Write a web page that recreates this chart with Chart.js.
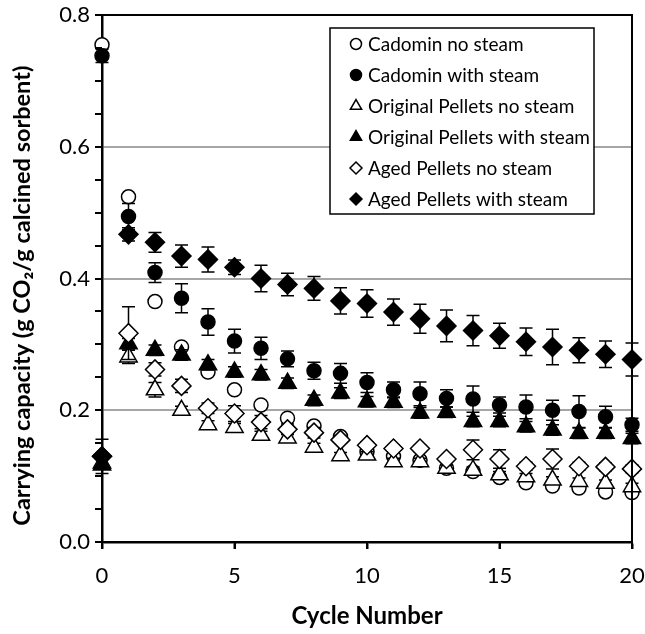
<!DOCTYPE html>
<html><head><meta charset="utf-8">
<script src="https://cdn.jsdelivr.net/npm/chart.js@4.4.1/dist/chart.umd.min.js"></script>
<style>html,body{margin:0;padding:0;background:#fff;} canvas{display:block;}</style>
</head><body>
<canvas id="c" width="645" height="634"></canvas>
<script>
// ---- data ----
const cycles = [0,1,2,3,4,5,6,7,8,9,10,11,12,13,14,15,16,17,18,19,20];
const seriesLabels = ["Cadomin no steam","Cadomin with steam","Original Pellets no steam","Original Pellets with steam","Aged Pellets no steam","Aged Pellets with steam"];
const cadominNoSteam      = [0.755,0.524,0.365,0.296,0.258,0.231,0.208,0.188,0.176,0.160,0.137,0.130,0.124,0.112,0.107,0.098,0.090,0.085,0.082,0.076,0.075];
const cadominWithSteam    = [0.738,0.494,0.409,0.370,0.334,0.305,0.294,0.278,0.260,0.256,0.242,0.231,0.225,0.218,0.217,0.208,0.205,0.200,0.198,0.190,0.178];
const originalNoSteam     = [0.120,0.281,0.231,0.200,0.178,0.174,0.162,0.158,0.144,0.131,0.132,0.122,0.122,0.112,0.109,0.102,0.099,0.094,0.092,0.089,0.084];
const originalWithSteam   = [0.117,0.301,0.291,0.284,0.269,0.258,0.254,0.241,0.215,0.226,0.213,0.212,0.196,0.197,0.183,0.183,0.175,0.170,0.165,0.165,0.157];
const agedNoSteam         = [0.130,0.317,0.262,0.237,0.203,0.195,0.182,0.171,0.166,0.155,0.147,0.142,0.142,0.126,0.140,0.126,0.115,0.126,0.115,0.114,0.111];
const agedWithSteam       = [0.130,0.467,0.455,0.434,0.429,0.417,0.400,0.391,0.385,0.366,0.362,0.349,0.339,0.328,0.321,0.313,0.304,0.296,0.291,0.285,0.277];
// error bar half-lengths
const cadominNoSteamErr    = [0,0,0,0,0,0,0,0,0,0,0,0,0,0,0,0,0,0,0,0,0];
const cadominWithSteamErr  = [0.010,0.020,0.015,0.022,0.020,0.018,0.017,0.012,0.013,0.015,0.015,0.012,0.018,0.013,0.020,0.012,0.018,0.015,0.024,0.016,0.010];
const originalNoSteamErr   = [0,0.010,0.011,0.006,0.006,0.006,0.006,0.006,0.006,0.005,0.005,0.005,0.005,0.005,0.005,0.005,0.005,0.005,0.005,0.005,0.005];
const originalWithSteamErr = [0,0.008,0.008,0.008,0.008,0.008,0.008,0.008,0.008,0.008,0.008,0.008,0.008,0.008,0.008,0.008,0.008,0.008,0.008,0.008,0.008];
const agedNoSteamErr       = [0,0.040,0.010,0.010,0.008,0.012,0.010,0.008,0.008,0.005,0.005,0.005,0.005,0.005,0.015,0.014,0.006,0.015,0.006,0.006,0.006];
const agedWithSteamErr     = [0.026,0.010,0.015,0.017,0.019,0.011,0.020,0.017,0.018,0.020,0.021,0.020,0.022,0.024,0.023,0.019,0.021,0.027,0.019,0.020,0.025];
const xTickValues = [0,5,10,15,20];
const yTickLabels = ["0.0","0.2","0.4","0.6","0.8"];
const xTitle = "Cycle Number";
const yTitle = "Carrying capacity (g CO\u2082/g calcined sorbent)";

const FONT = 'Lato, "Open Sans", sans-serif';
const seriesValues = [cadominNoSteam,cadominWithSteam,originalNoSteam,originalWithSteam,agedNoSteam,agedWithSteam];
const seriesErrors = [cadominNoSteamErr,cadominWithSteamErr,originalNoSteamErr,originalWithSteamErr,agedNoSteamErr,agedWithSteamErr];
const styles = [
  {pointStyle:'circle', radius:7, fill:'#fff', lr:5.5},
  {pointStyle:'circle', radius:7, fill:'#000', lr:5.5},
  {pointStyle:'triangle', radius:10, fill:'#fff', lr:6.5},
  {pointStyle:'triangle', radius:10, fill:'#000', lr:6.5},
  {pointStyle:'rectRot', radius:9.5, fill:'#fff', lr:6},
  {pointStyle:'rectRot', radius:9.5, fill:'#000', lr:6}
];

const datasets = seriesLabels.map((lab, i) => ({
  label: lab,
  data: cycles.map((c, j) => ({x: c, y: seriesValues[i][j]})),
  errors: seriesErrors[i],
  pointStyle: styles[i].pointStyle,
  pointRadius: styles[i].radius,
  pointHoverRadius: styles[i].radius,
  pointBackgroundColor: styles[i].fill,
  pointBorderColor: '#000',
  pointBorderWidth: 1.5,
  showLine: false,
  clip: false,
  order: seriesLabels.length - i
}));

const errorBars = {
  id: 'errorBars',
  beforeDatasetDraw(chart, args) {
    const ds = chart.data.datasets[args.index];
    if (!ds.errors) return;
    const xs = chart.scales.x, ys = chart.scales.y;
    const ctx = chart.ctx;
    ctx.save();
    ctx.strokeStyle = '#000';
    ctx.lineWidth = 1.5;
    ds.data.forEach((p, j) => {
      const e = ds.errors[j];
      if (!e) return;
      const px = xs.getPixelForValue(p.x);
      const y1 = ys.getPixelForValue(p.y + e), y2 = ys.getPixelForValue(p.y - e);
      ctx.beginPath();
      ctx.moveTo(px, y1); ctx.lineTo(px, y2);
      ctx.moveTo(px - 6.5, y1); ctx.lineTo(px + 6.5, y1);
      ctx.moveTo(px - 6.5, y2); ctx.lineTo(px + 6.5, y2);
      ctx.stroke();
    });
    ctx.restore();
  }
};

const frame = {
  id: 'frame',
  afterDraw(chart) {
    const {ctx, chartArea: a} = chart;
    const xs = chart.scales.x, ys = chart.scales.y;
    ctx.save();
    ctx.strokeStyle = '#000';
    ctx.lineWidth = 2;
    ctx.beginPath();
    ctx.moveTo(a.left, a.top); ctx.lineTo(a.right, a.top); ctx.lineTo(a.right, a.bottom);
    // outward tick marks
    ys.ticks.forEach(t => { const py = Math.round(ys.getPixelForValue(t.value)); ctx.moveTo(a.left - 7, py); ctx.lineTo(a.left, py); });
    xs.ticks.forEach(t => { const px = Math.round(xs.getPixelForValue(t.value)); ctx.moveTo(px, a.bottom); ctx.lineTo(px, a.bottom + 7); });
    ctx.stroke();
    ctx.restore();
  }
};

const boxLegend = {
  id: 'boxLegend',
  afterDraw(chart) {
    const ctx = chart.ctx;
    const L = 330, T = 28, W = 264, H = 186, rowH = 31, y0 = 44, mx = 356, tx = 368;
    ctx.save();
    ctx.fillStyle = '#fff';
    ctx.fillRect(L, T, W, H);
    ctx.strokeStyle = '#000';
    ctx.lineWidth = 1.5;
    ctx.strokeRect(L, T, W, H);
    ctx.font = '19px ' + FONT;
    ctx.textBaseline = 'middle';
    chart.data.datasets.forEach((ds, i) => {
      const y = y0 + i * rowH;
      ctx.fillStyle = ds.pointBackgroundColor;
      ctx.strokeStyle = '#000';
      ctx.lineWidth = 1.5;
      Chart.helpers.drawPoint(ctx, {pointStyle: ds.pointStyle, radius: styles[i].lr, rotation: 0, borderWidth: 1.5}, mx, y);
      ctx.fillStyle = '#000';
      ctx.fillText(ds.label, tx, y + 1);
    });
    ctx.restore();
  }
};

new Chart(document.getElementById('c'), {
  type: 'scatter',
  data: {datasets},
  options: {
    responsive: false,
    animation: false,
    events: [],
    layout: {padding: {top: 15, right: 13, left: 0, bottom: 0}},
    plugins: {legend: {display: false}, tooltip: {enabled: false}},
    scales: {
      x: {
        type: 'linear', min: 0, max: 20,
        afterFit(s) { s.height = 92; s.paddingLeft = 0; s.paddingRight = 0; },
        afterBuildTicks(s) { s.ticks = xTickValues.map(v => ({value: v})); },
        ticks: {color: '#000', font: {family: FONT, size: 22}, padding: 14,
                callback: v => String(v)},
        grid: {drawOnChartArea: false, drawTicks: true, tickLength: 7, tickColor: '#000', tickWidth: 2},
        border: {color: '#000', width: 2.5},
        title: {display: true, text: xTitle, color: '#000', font: {family: FONT, size: 24, weight: 'bold'}, padding: {top: 0, bottom: 3}}
      },
      y: {
        type: 'linear', min: 0, max: 0.8,
        afterFit(s) { s.width = 102; s.paddingTop = 0; s.paddingBottom = 0; },
        ticks: {stepSize: 0.05, color: '#000', font: {family: FONT, size: 22}, padding: 5,
                callback: (v) => { const k = Math.round(v * 100); return k % 20 === 0 ? yTickLabels[k / 20] : ''; }},
        grid: {
          drawTicks: true, tickLength: 7, tickWidth: 2, tickColor: '#000',
          lineWidth: 2,
          color: (c) => { const k = Math.round(c.tick.value * 100); return (k % 20 === 0 && k > 0 && k < 80) ? '#a6a6a6' : 'rgba(0,0,0,0)'; }
        },
        border: {color: '#000', width: 2.5},
        title: {display: true, text: yTitle + '      ', color: '#000', font: {family: FONT, size: 23.5, weight: 'bold'}, padding: {top: 8, bottom: 0}}
      }
    }
  },
  plugins: [errorBars, frame, boxLegend]
});
</script>
</body></html>
